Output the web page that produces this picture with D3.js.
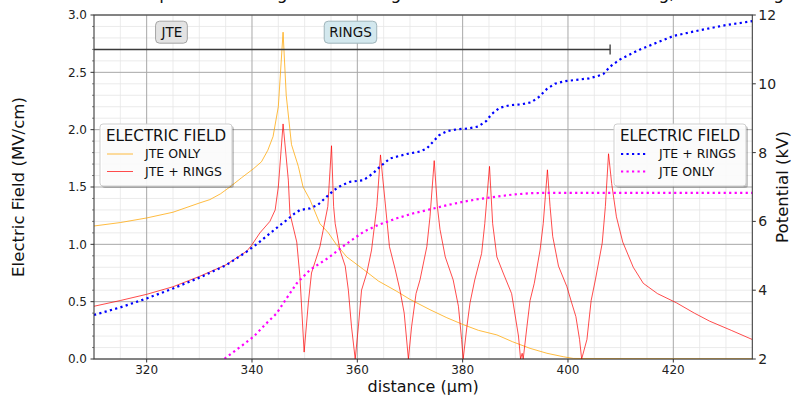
<!DOCTYPE html>
<html><head><meta charset="utf-8">
<script src="https://cdn.jsdelivr.net/npm/d3@7"></script>
<style>
body{margin:0;background:#fff}
svg{display:block;font-family:"DejaVu Sans",sans-serif}
</style>
</head><body>
<svg id="chart" width="792" height="398"></svg>
<script>
// ---------------- DATA ----------------
const titleText = "Simulated potential along its outer edge of the SiC alone and with ring, and the ring field";
const xLabel = "distance (µm)";
const yLeftLabel = "Electric Field (MV/cm)";
const yRightLabel = "Potential (kV)";
const xTicks = [320, 340, 360, 380, 400, 420];
const yLeftTicks = [0.0, 0.5, 1.0, 1.5, 2.0, 2.5, 3.0];
const yRightTicks = [2, 4, 6, 8, 10, 12];

// Electric field, JTE only (orange)
const distFieldJte = [310, 315, 320, 325, 330, 332, 334, 335.8, 338, 340.3, 341.8, 343, 344, 345, 345.9, 346.5, 347.5, 348.8, 349.7, 351, 352.9, 354.5, 356, 358, 361.2, 364, 367.5, 370, 373.8, 377, 380.1, 383, 386.5, 389.5, 392.8, 396, 399.1, 401, 405, 420, 435];
const fieldJte     = [1.16, 1.19, 1.23, 1.28, 1.36, 1.39, 1.44, 1.50, 1.58, 1.66, 1.72, 1.82, 1.94, 2.20, 2.85, 2.30, 1.87, 1.68, 1.50, 1.39, 1.18, 1.10, 1.00, 0.89, 0.78, 0.68, 0.59, 0.52, 0.43, 0.36, 0.30, 0.25, 0.21, 0.15, 0.093, 0.05, 0.02, 0.005, 0.003, 0.002, 0.002];

// Electric field, JTE + rings (red)
const distFieldRings = [310, 315, 320, 325, 330, 335, 339, 339.9, 341.5, 343.4, 344.4, 345.0, 345.9, 346.9, 347.2, 348.5, 349.1, 349.9, 350.7, 351.3, 352.9, 353.5, 354.4, 355.1, 355.5, 355.8, 356.7, 357.7, 358.3, 358.9, 359.6, 360.2, 360.8, 361.8, 362.7, 363.7, 364.4, 364.8, 365.3, 366.1, 367.2, 368.1, 368.9, 369.7, 370.3, 371.15, 371.9, 373.2, 373.8, 374.6, 375.2, 375.7, 376.7, 378.2, 379.2, 379.8, 380.1, 380.8, 381.4, 382.3, 383.6, 384.2, 385.1, 385.7, 386.5, 387.7, 389.3, 389.9, 390.6, 391.0, 391.3, 391.5, 392.2, 392.8, 393.6, 394.7, 395.3, 396.1, 396.6, 397.1, 398.2, 399.8, 400.7, 401.5, 402.2, 402.6, 403.6, 404.4, 405.2, 406.5, 407.1, 407.7, 408.3, 409.2, 410.4, 412.4, 414.3, 417, 420.6, 424, 426.9, 431, 435];
const fieldRings     = [0.46, 0.51, 0.564, 0.63, 0.72, 0.82, 0.94, 0.99, 1.10, 1.20, 1.30, 1.50, 2.05, 1.56, 1.27, 1.02, 0.72, 0.06, 0.49, 0.75, 0.98, 1.12, 1.33, 1.86, 1.33, 1.18, 0.95, 0.81, 0.60, 0.28, 0.0, 0.28, 0.60, 0.75, 0.95, 1.33, 1.78, 1.59, 1.36, 0.98, 0.78, 0.60, 0.40, 0.0, 0.28, 0.57, 0.69, 0.98, 1.24, 1.73, 1.33, 1.13, 0.89, 0.69, 0.46, 0.17, 0.0, 0.28, 0.49, 0.69, 0.92, 1.18, 1.68, 1.18, 0.89, 0.75, 0.57, 0.40, 0.20, 0.0, 0.05, 0.0, 0.28, 0.51, 0.66, 0.95, 1.18, 1.65, 1.33, 1.07, 0.81, 0.63, 0.49, 0.37, 0.17, 0.0, 0.17, 0.51, 0.69, 1.01, 1.33, 1.79, 1.53, 1.24, 1.02, 0.80, 0.66, 0.57, 0.49, 0.40, 0.33, 0.25, 0.17];

// Potential, JTE + rings (blue dotted)
const distPotRings = [310, 315, 320, 325, 330.1, 335, 339, 341, 343, 345, 346.6, 348, 349.1, 351, 352.5, 354.2, 355.5, 357, 358.6, 361.2, 363.0, 364.3, 366.2, 369.4, 371.9, 373.2, 374.4, 375.5, 377, 379, 381, 383, 384.5, 385.5, 387, 389, 391, 393, 394.5, 396, 397.5, 399.5, 402, 404, 405.5, 406.7, 408, 409.9, 413.7, 420, 425.1, 430.1, 435];
const potRings     = [3.28, 3.50, 3.76, 4.05, 4.37, 4.72, 5.12, 5.35, 5.60, 5.85, 6.04, 6.22, 6.33, 6.38, 6.48, 6.72, 6.90, 7.05, 7.15, 7.20, 7.40, 7.59, 7.83, 7.96, 8.03, 8.12, 8.32, 8.50, 8.62, 8.68, 8.70, 8.76, 8.92, 9.12, 9.30, 9.38, 9.40, 9.46, 9.62, 9.85, 10.00, 10.08, 10.12, 10.16, 10.22, 10.28, 10.50, 10.71, 11.00, 11.39, 11.56, 11.71, 11.82];

// Potential, JTE only (magenta dotted)
const distPotJte = [334, 334.9, 337.5, 340.3, 342.5, 344.7, 346.5, 348.5, 351, 354.5, 357.5, 361.2, 364, 367.5, 370.5, 373.8, 377, 380.1, 383, 386.5, 389.5, 392.8, 396, 399.1, 435];
const potJte     = [1.90, 2.02, 2.32, 2.65, 3.00, 3.33, 3.75, 4.20, 4.59, 4.94, 5.30, 5.70, 5.90, 6.09, 6.23, 6.35, 6.47, 6.57, 6.65, 6.72, 6.78, 6.82, 6.83, 6.83, 6.83];

// annotations
const spanStart = 300, spanEnd = 408, spanLevel = 2.7;
const boxLabels = ["JTE", "RINGS"];
const boxLabelX = [324.8, 358.7];
const boxLabelY = 2.85;

const legendTitle = "ELECTRIC FIELD";
const leftLegendNames = ["JTE ONLY", "JTE + RINGS"];
const rightLegendNames = ["JTE + RINGS", "JTE ONLY"];

// ---------------- CHART ----------------
const svg = d3.select("#chart");
const L = 94, R = 752.3, T = 15, B = 359;
const x = d3.scaleLinear().domain([310, 435]).range([L, R]);
const yL = d3.scaleLinear().domain([0, 3]).range([B, T]);
const yR = d3.scaleLinear().domain([2, 12]).range([B, T]);

svg.append("defs").append("clipPath").attr("id", "clip")
  .append("rect").attr("x", L).attr("y", T).attr("width", R - L).attr("height", B - T);

// grid
const grid = svg.append("g");
const xMinor = d3.range(310, 436, 5).filter(v => v % 20 !== 0);
const yMinor = d3.range(0, 31).map(v => v / 10).filter(v => Math.round(v * 10) % 5 !== 0);
grid.selectAll(".xm").data(xMinor).join("line")
  .attr("x1", d => x(d)).attr("x2", d => x(d)).attr("y1", T).attr("y2", B)
  .attr("stroke", "#e6e6e6").attr("stroke-width", 0.8);
grid.selectAll(".ym").data(yMinor).join("line")
  .attr("y1", d => yL(d)).attr("y2", d => yL(d)).attr("x1", L).attr("x2", R)
  .attr("stroke", "#e6e6e6").attr("stroke-width", 0.8);
grid.selectAll(".xM").data(xTicks).join("line")
  .attr("x1", d => x(d)).attr("x2", d => x(d)).attr("y1", T).attr("y2", B)
  .attr("stroke", "#a8a8a8").attr("stroke-width", 1);
grid.selectAll(".yM").data(yLeftTicks).join("line")
  .attr("y1", d => yL(d)).attr("y2", d => yL(d)).attr("x1", L).attr("x2", R)
  .attr("stroke", "#a8a8a8").attr("stroke-width", 1);

// lines
const plot = svg.append("g").attr("clip-path", "url(#clip)");
const lineL = d3.line().x(d => x(d[0])).y(d => yL(d[1]));
const lineR = d3.line().x(d => x(d[0])).y(d => yR(d[1]));
const zip = (a, b) => a.map((v, i) => [v, b[i]]);

plot.append("path").datum(zip(distFieldJte, fieldJte)).attr("d", lineL)
  .attr("fill", "none").attr("stroke", "orange").attr("stroke-opacity", 0.75).attr("stroke-width", 1);
plot.append("path").datum(zip(distFieldRings, fieldRings)).attr("d", lineL)
  .attr("fill", "none").attr("stroke", "red").attr("stroke-opacity", 0.7).attr("stroke-width", 1);
plot.append("path").datum(zip(distPotRings, potRings)).attr("d", lineR)
  .attr("fill", "none").attr("stroke", "#0000ff").attr("stroke-width", 2.2).attr("stroke-dasharray", "2.2,3.3");
plot.append("path").datum(zip(distPotJte, potJte)).attr("d", lineR)
  .attr("fill", "none").attr("stroke", "#ff00ff").attr("stroke-width", 2.2).attr("stroke-dasharray", "2.2,3.3");

// span annotation
plot.append("line").attr("x1", x(spanStart)).attr("x2", x(spanEnd))
  .attr("y1", yL(spanLevel)).attr("y2", yL(spanLevel))
  .attr("stroke", "#3a3a3a").attr("stroke-width", 1.5);
plot.append("line").attr("x1", x(spanEnd)).attr("x2", x(spanEnd))
  .attr("y1", yL(spanLevel) - 5).attr("y2", yL(spanLevel) + 5)
  .attr("stroke", "#3a3a3a").attr("stroke-width", 1.3);

// box labels
const boxFill = ["#e3e3e3", "#d3e8ee"];
const boxStroke = ["#a5a5a5", "#9fb4ba"];
boxLabels.forEach((t, i) => {
  const g = svg.append("g");
  const txt = g.append("text").attr("x", x(boxLabelX[i])).attr("y", yL(boxLabelY))
    .attr("text-anchor", "middle").attr("dominant-baseline", "central")
    .attr("font-size", 13.5).attr("fill", "#111").text(t);
  const bb = txt.node().getBBox();
  g.insert("rect", "text").attr("x", bb.x - 5).attr("y", yL(boxLabelY) - 11)
    .attr("width", bb.width + 10).attr("height", 22).attr("rx", 4)
    .attr("fill", boxFill[i]).attr("stroke", boxStroke[i]).attr("stroke-width", 1);
});

// axes
const ax = svg.append("g").attr("font-size", 12).attr("fill", "#222");
ax.append("rect").attr("x", L).attr("y", T).attr("width", R - L).attr("height", B - T)
  .attr("fill", "none").attr("stroke", "#333").attr("stroke-width", 1);
ax.selectAll(".lt").data(yLeftTicks).join("line")
  .attr("x1", L - 3.5).attr("x2", L).attr("y1", d => yL(d)).attr("y2", d => yL(d))
  .attr("stroke", "#333");
ax.selectAll(".ltm").data(yMinor).join("line")
  .attr("x1", L - 2).attr("x2", L).attr("y1", d => yL(d)).attr("y2", d => yL(d))
  .attr("stroke", "#333").attr("stroke-width", 0.6);
ax.selectAll(".ll").data(yLeftTicks).join("text")
  .attr("x", L - 7).attr("y", d => yL(d)).attr("dy", "0.35em").attr("text-anchor", "end")
  .attr("fill", "#222").text(d => d.toFixed(1));
ax.selectAll(".rt").data(yRightTicks).join("line")
  .attr("x1", R).attr("x2", R + 3.5).attr("y1", d => yR(d)).attr("y2", d => yR(d))
  .attr("stroke", "#333");
ax.selectAll(".rl").data(yRightTicks).join("text")
  .attr("x", R + 6).attr("y", d => yR(d)).attr("dy", "0.35em").attr("text-anchor", "start")
  .attr("font-size", 14).attr("fill", "#222").text(d => d);
ax.selectAll(".bt").data(xTicks).join("line")
  .attr("x1", d => x(d)).attr("x2", d => x(d)).attr("y1", B).attr("y2", B + 3.5)
  .attr("stroke", "#333");
ax.selectAll(".bl").data(xTicks).join("text")
  .attr("x", d => x(d)).attr("y", B + 14.5).attr("text-anchor", "middle")
  .attr("fill", "#222").text(d => d);

// axis labels
svg.append("text").attr("x", (L + R) / 2).attr("y", 392).attr("text-anchor", "middle")
  .attr("font-size", 16).attr("fill", "#111").text(xLabel);
svg.append("text").attr("transform", `translate(24,${(T + B) / 2}) rotate(-90)`)
  .attr("text-anchor", "middle").attr("font-size", 16.6).attr("fill", "#111").text(yLeftLabel);
svg.append("text").attr("transform", `translate(788,${(T + B) / 2}) rotate(-90)`)
  .attr("text-anchor", "middle").attr("font-size", 16.6).attr("fill", "#111").text(yRightLabel);

// title (cut off at the top, as in the reference: only descenders show)
svg.append("text").attr("x", 68).attr("y", -1).attr("font-size", 17).attr("fill", "#111").text(titleText);

// legends
function legend(x0, y0, w, names, styles) {
  const g = svg.append("g");
  g.append("rect").attr("x", x0 + 2).attr("y", y0 + 2).attr("width", w).attr("height", 62)
    .attr("rx", 3).attr("fill", "#000").attr("opacity", 0.22);
  g.append("rect").attr("x", x0).attr("y", y0).attr("width", w).attr("height", 62)
    .attr("rx", 3).attr("fill", "#fff").attr("fill-opacity", 0.92).attr("stroke", "#cfcfcf");
  g.append("text").attr("x", x0 + w / 2).attr("y", y0 + 17).attr("text-anchor", "middle")
    .attr("font-size", 15.1).attr("fill", "#111").text(legendTitle);
  names.forEach((n, i) => {
    const yy = y0 + 30 + i * 17.5;
    const s = styles[i];
    g.append("line").attr("x1", x0 + 7).attr("x2", x0 + 33).attr("y1", yy).attr("y2", yy)
      .attr("stroke", s.c).attr("stroke-opacity", s.o).attr("stroke-width", s.w)
      .attr("stroke-dasharray", s.dash || null);
    g.append("text").attr("x", x0 + 45).attr("y", yy).attr("dy", "0.35em")
      .attr("font-size", 12.5).attr("fill", "#111").text(n);
  });
}
legend(100, 124, 132, leftLegendNames, [
  {c: "orange", o: 0.75, w: 1}, {c: "red", o: 0.7, w: 1}]);
legend(614, 124, 132, rightLegendNames, [
  {c: "#0000ff", o: 1, w: 2.2, dash: "2.2,3.3"}, {c: "#ff00ff", o: 1, w: 2.2, dash: "2.2,3.3"}]);
</script>
</body></html>
